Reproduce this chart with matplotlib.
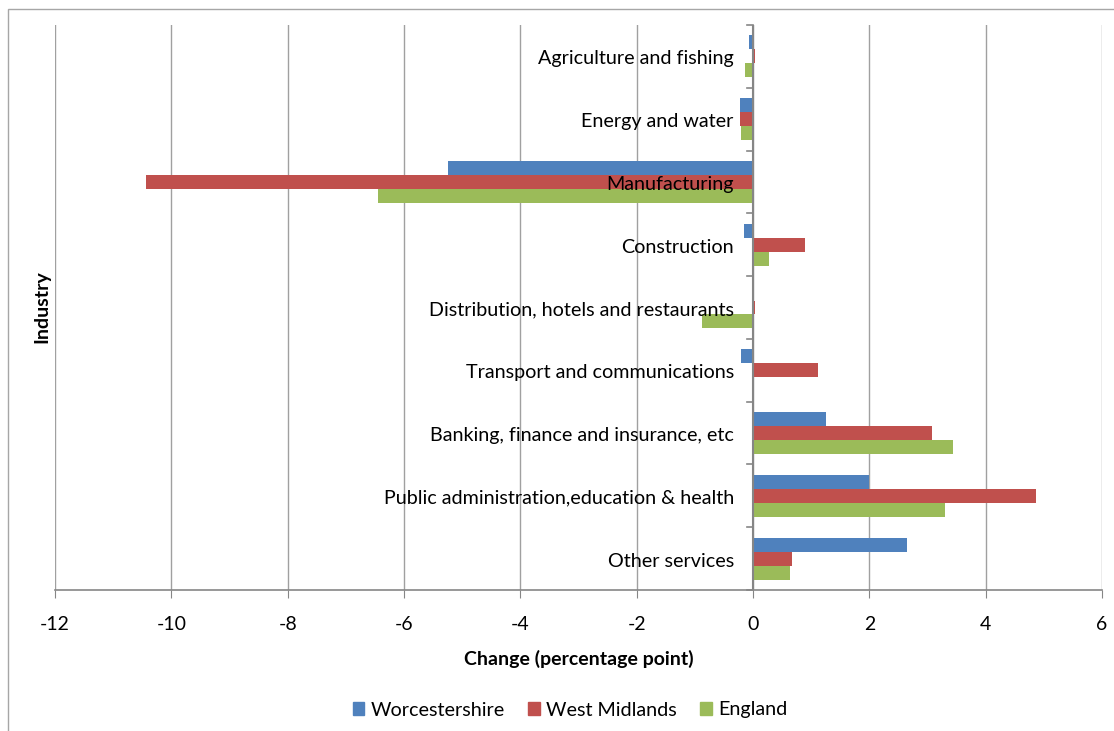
import numpy as np
import matplotlib
matplotlib.use("Agg")
import matplotlib.pyplot as plt
from matplotlib.patches import Rectangle, Patch

plt.rcParams['font.family'] = ['Lato', 'DejaVu Sans']

industries = [
    "Agriculture and fishing",
    "Energy and water",
    "Manufacturing",
    "Construction",
    "Distribution, hotels and restaurants",
    "Transport and communications",
    "Banking, finance and insurance, etc",
    "Public administration,education & health",
    "Other services",
]
worcestershire = [-0.07, -0.23, -5.24, -0.15, 0.02, -0.20, 1.25, 1.99, 2.65]
west_midlands = [0.03, -0.22, -10.43, 0.89, 0.03, 1.12, 3.08, 4.87, 0.67]
england = [-0.13, -0.20, -6.45, 0.28, -0.88, 0.02, 3.44, 3.30, 0.64]

series = [
    ("Worcestershire", worcestershire, "#4F81BD"),
    ("West Midlands", west_midlands, "#C0504D"),
    ("England", england, "#9BBB59"),
]
x_ticks = [-12, -10, -8, -6, -4, -2, 0, 2, 4, 6]

W, H = 1114, 731
fig = plt.figure(figsize=(W / 100, H / 100), dpi=100)
ax = fig.add_axes([55 / W, 1 - 590 / H, (1102 - 55) / W, (590 - 25) / H])

# outer chart frame
fig.patches.append(Rectangle((8 / W, -0.05), 1.2, 1 - 9 / H + 0.05,
                             transform=fig.transFigure, fill=False,
                             edgecolor="#A6A6A6", linewidth=1.0))

y = np.arange(len(industries))
bh = 0.223
for i, (name, vals, col) in enumerate(series):
    ax.barh(y + (i - 1) * bh, vals, height=bh, color=col, label=name, zorder=3)

ax.set_xlim(-12, 6)
ax.set_ylim(len(industries) - 0.5, -0.5)
ax.set_xticks(x_ticks)
ax.set_xticklabels([str(t) for t in x_ticks], fontsize=14)
ax.tick_params(axis="x", length=6, color="#868686", pad=13)
ax.grid(axis="x", color="#A0A0A0", linewidth=1.0, zorder=0)

for s in ["top", "right", "left"]:
    ax.spines[s].set_visible(False)
ax.spines["bottom"].set_color("#868686")
ax.spines["bottom"].set_linewidth(1.2)

# category axis drawn at zero
ax.set_yticks([])
ax.axvline(0, color="#868686", linewidth=1.5, zorder=4)
for b in np.arange(-0.5, len(industries), 1.0):
    ax.plot([-0.1, 0], [b, b], color="#868686", linewidth=1.2, zorder=4,
            clip_on=False)
for yi, lab in zip(y, industries):
    ax.text(-0.33, yi + 0.04, lab, ha="right", va="center", fontsize=14.2,
            zorder=5)

ax.set_xlabel("Change (percentage point)", fontsize=14, fontweight="bold",
              labelpad=12)
fig.text(42 / W, 1 - 307 / H, "Industry", rotation=90, ha="center",
         va="center", fontsize=14, fontweight="bold")

handles = [Patch(color=c, label=n) for n, _, c in series]
fig.legend(handles=handles, loc="center", bbox_to_anchor=(570 / W, 1 - 710 / H),
           ncol=3, frameon=False, fontsize=14.2, handlelength=0.6,
           handleheight=0.6, columnspacing=1.2, handletextpad=0.3)

fig.savefig("out.png", dpi=100)
